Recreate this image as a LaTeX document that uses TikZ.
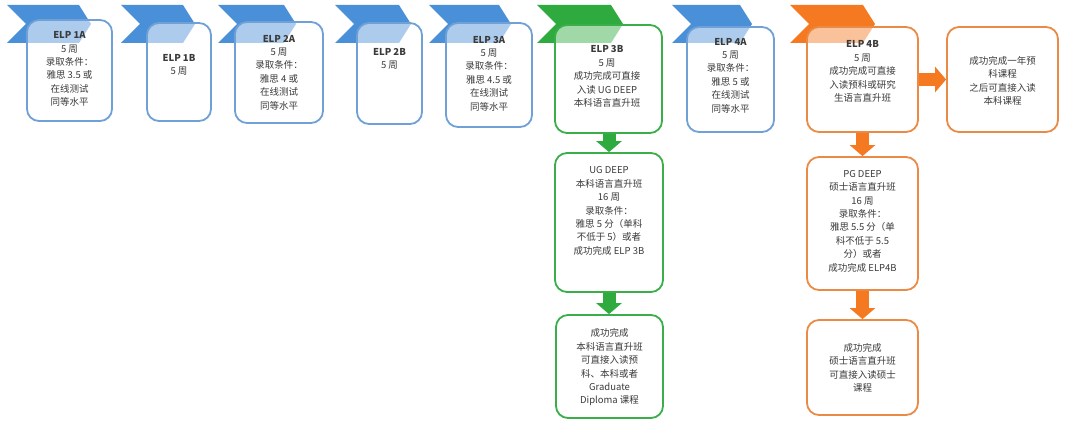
\documentclass[tikz,border=0pt]{standalone}
\usepackage{fontspec}
\setmainfont{Noto Sans CJK SC}
\usetikzlibrary{arrows.meta,calc}
\definecolor{cblue}{HTML}{4A90D9}
\definecolor{bblue}{HTML}{6FA0D6}
\definecolor{cgreen}{HTML}{2EAA3F}
\definecolor{bgreen}{HTML}{3AAE49}
\definecolor{corange}{HTML}{F47920}
\definecolor{borange}{HTML}{EA8A45}
\definecolor{tgray}{HTML}{3A3A3A}
\tikzset{
  chev/.style={fill=#1, draw=none},
  boxb/.style={draw=bblue, line width=1.8pt, rounded corners=12pt, fill=white, fill opacity=0.55},
  boxg/.style={draw=bgreen, line width=1.8pt, rounded corners=12pt, fill=white, fill opacity=0.55},
  boxo/.style={draw=borange, line width=1.8pt, rounded corners=12pt, fill=white, fill opacity=0.55},
  txt/.style={align=center, text=tgray, font=\fontsize{9.5}{13.4}\selectfont, inner sep=0pt},
  bigarrow/.style={draw=#1, line width=13pt, -{Triangle[length=11pt,width=25pt]}},
}
\newcommand{\chevron}[3]{% x0, top length, colour
  \fill[chev=#3] (#1,5) -- ++(#2,0) -- ++(12,19) -- ++(-12,19) -- (#1,43) -- ++(19,-19) -- cycle;}
\begin{document}
\begin{tikzpicture}[x=1pt,y=-1pt]
\useasboundingbox[fill=white] (0,0) rectangle (1080,433);
% chevrons
\chevron{7}{72}{cblue}
\chevron{121}{62}{cblue}
\chevron{218}{66}{cblue}
\chevron{335}{64}{cblue}
\chevron{429}{70}{cblue}
\chevron{537}{74}{cgreen}
\chevron{672}{68}{cblue}
\chevron{790}{73}{corange}
% boxes
\node[boxb, minimum width=85pt, minimum height=101pt] (b1a) at (69.5,70.5) {};
\node[boxb, minimum width=64pt, minimum height=98pt] (b1b) at (179,72) {};
\node[boxb, minimum width=88pt, minimum height=101pt] (b2a) at (279,72.5) {};
\node[boxb, minimum width=65pt, minimum height=101pt] (b2b) at (389.5,73.5) {};
\node[boxb, minimum width=86pt, minimum height=104pt] (b3a) at (489,75) {};
\node[boxg, minimum width=107pt, minimum height=108pt] (b3b) at (608.5,79) {};
\node[boxb, minimum width=87pt, minimum height=105pt] (b4a) at (730.5,79.5) {};
\node[boxo, minimum width=111pt, minimum height=105pt] (b4b) at (862.5,79.5) {};
\node[boxo, minimum width=111pt, minimum height=105pt] (bR) at (1002.5,79.5) {};
\node[boxg, minimum width=108pt, minimum height=139pt] (ug) at (609,222.5) {};
\node[boxg, minimum width=107pt, minimum height=103pt] (ugf) at (609.5,366.5) {};
\node[boxo, minimum width=111pt, minimum height=133pt] (pg) at (862.5,223.5) {};
\node[boxo, minimum width=111pt, minimum height=95pt] (pgf) at (862.5,367.5) {};
% texts
\node[txt] (t1a) at (69.5,69) {\textbf{ELP 1A}\\5 周\\录取条件：\\雅思 3.5 或\\在线测试\\同等水平};
\node[txt] (t1b) at (179,65) {\textbf{ELP 1B}\\5 周};
\node[txt] (t2a) at (279,72.5) {\textbf{ELP 2A}\\5 周\\录取条件：\\雅思 4 或\\在线测试\\同等水平};
\node[txt] (t2b) at (389.5,59) {\textbf{ELP 2B}\\5 周};
\node[txt] (t3a) at (489,73.5) {\textbf{ELP 3A}\\5 周\\录取条件：\\雅思 4.5 或\\在线测试\\同等水平};
\node[txt] (t3b) at (607,76.5) {\textbf{ELP 3B}\\5 周\\成功完成可直接\\入读 UG DEEP\\本科语言直升班};
\node[txt] (t4a) at (730.5,75.5) {\textbf{ELP 4A}\\5 周\\录取条件：\\雅思 5 或\\在线测试\\同等水平};
\node[txt] (t4b) at (862.5,71.5) {\textbf{ELP 4B}\\5 周\\成功完成可直接\\入读预科或研究\\生语言直升班};
\node[txt] (tR) at (1002.5,81) {成功完成一年预\\科课程\\之后可直接入读\\本科课程};
\node[txt] (tug) at (609,211) {UG DEEP\\本科语言直升班\\16 周\\录取条件：\\雅思 5 分（单科\\不低于 5）或者\\成功完成 ELP 3B};
\node[txt] (tugf) at (609.5,367.5) {成功完成\\本科语言直升班\\可直接入读预\\科、本科或者\\Graduate\\Diploma 课程};
\node[txt] (tpg) at (862.5,221) {PG DEEP\\硕士语言直升班\\16 周\\录取条件：\\雅思 5.5 分（单\\科不低于 5.5\\分）或者\\成功完成 ELP4B};
\node[txt] (tpgf) at (862.5,368) {成功完成\\硕士语言直升班\\可直接入读硕士\\课程};
% arrows
\draw[bigarrow=corange] (b4b.east) -- (bR.west);
\draw[bigarrow=cgreen] (b3b.south -| ug.center) -- (ug.north);
\draw[bigarrow=cgreen] (ug.south) -- (ugf.north -| ug.center);
\draw[bigarrow=corange] (b4b.south) -- (pg.north);
\draw[bigarrow=corange] (pg.south) -- (pgf.north);
\end{tikzpicture}
\end{document}
